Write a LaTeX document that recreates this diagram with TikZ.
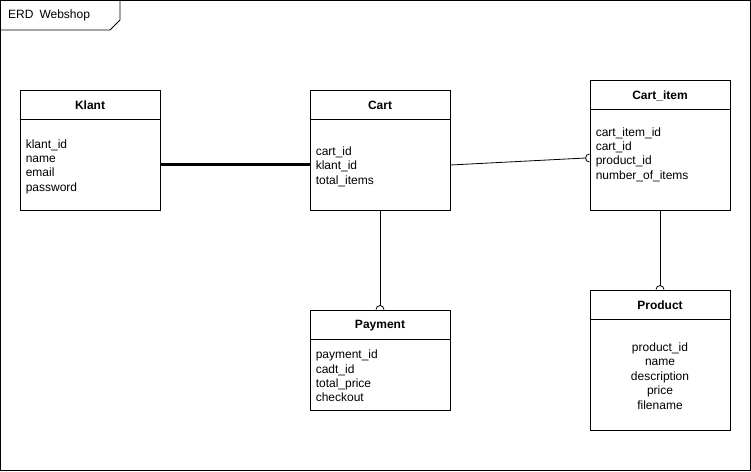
\documentclass[tikz,border=0pt]{standalone}
\usepackage{fontspec}
\setmainfont{Liberation Sans}
\usetikzlibrary{calc}
\tikzset{
  entity/.style={draw, fill=white, line width=0.9pt, minimum width=140pt, inner sep=0pt},
  etitle/.style={font=\fontsize{12}{14.4}\selectfont\bfseries, inner sep=0pt},
  attrs/.style={font=\fontsize{12}{14.4}\selectfont, inner sep=0pt, align=left},
  cattrs/.style={font=\fontsize{12}{14.4}\selectfont, inner sep=0pt, align=center},
  rel/.style={draw, line width=0.8pt},
  strongrel/.style={draw, line width=3pt},
  zero/.style={draw, line width=0.8pt},
  frameline/.style={draw, line width=0.8pt}
}
\begin{document}
\begin{tikzpicture}[x=1pt,y=-1pt]
\useasboundingbox (0,0) rectangle (751,471);
% frame
\draw[frameline] (0.5,0.5) rectangle (750.5,470.5);
\coordinate (tabA) at (0.5,30);
\coordinate (tabB) at (110,30);
\coordinate (tabC) at (120,20);
\coordinate (tabD) at (120,0.5);
\draw[frameline] (tabA) -- (tabB) -- (tabC) -- (tabD);
\node[font=\fontsize{12}{14.4}\selectfont, anchor=west, inner sep=0pt] (framelabel) at (8,15.5) {ERD\enspace Webshop};

% entities
\node[entity, minimum height=120pt] (klant) at (90,150) {};
\node[entity, minimum height=120pt] (cart) at (380,150) {};
\node[entity, minimum height=130pt] (cartitem) at (660,145) {};
\node[entity, minimum height=100pt] (payment) at (380,360) {};
\node[entity, minimum height=140pt] (product) at (660,360) {};

% header lines
\foreach \e in {klant,cart,cartitem,payment,product}{
  \draw[line width=0.9pt] ($(\e.north west)+(0,30)$) -- ($(\e.north east)+(0,30)$);
}

% titles
\node[etitle] (klantT) at ($(klant.north)+(0,16)$) {Klant};
\node[etitle] (cartT) at ($(cart.north)+(0,16)$) {Cart};
\node[etitle] (cartitemT) at ($(cartitem.north)+(0,16)$) {Cart\_item};
\node[etitle] (paymentT) at ($(payment.north)+(0,16)$) {Payment};
\node[etitle] (productT) at ($(product.north)+(0,16)$) {Product};

% attributes
\node[attrs, anchor=west] (klantA) at ($(klant.west)+(6,16.5)$) {klant\_id\\name\\email\\password};
\node[attrs, anchor=west] (cartA) at ($(cart.west)+(6,16.5)$) {cart\_id\\klant\_id\\total\_items};
\node[attrs, anchor=west] (cartitemA) at ($(cartitem.west)+(6,9.5)$) {cart\_item\_id\\cart\_id\\product\_id\\number\_of\_items};
\node[attrs, anchor=west] (paymentA) at ($(payment.west)+(6,16)$) {payment\_id\\cadt\_id\\total\_price\\checkout};
\node[cattrs] (productA) at ($(product.center)+(0,16)$) {product\_id\\name\\description\\price\\filename};

% connectors
\draw[strongrel] (klant.east |- 0,164) -- (cart.west |- 0,164);

\coordinate (cOut) at (cart.east |- 0,165);
\coordinate (ciIn) at (cartitem.west |- 0,158);
\draw[rel] (cOut) -- ($(ciIn)+(-4pt,0pt)$);
\draw[zero] ($(ciIn)+(0pt,4pt)$) arc[start angle=90, end angle=270, radius=4pt];

\draw[rel] (cart.south) -- ($(payment.north)+(0pt,4pt)$);
\draw[zero] ($(payment.north)+(4pt,0pt)$) arc[start angle=0, end angle=180, radius=4pt];

\draw[rel] (cartitem.south) -- ($(product.north)+(0pt,4pt)$);
\draw[zero] ($(product.north)+(4pt,0pt)$) arc[start angle=0, end angle=180, radius=4pt];
\end{tikzpicture}
\end{document}
